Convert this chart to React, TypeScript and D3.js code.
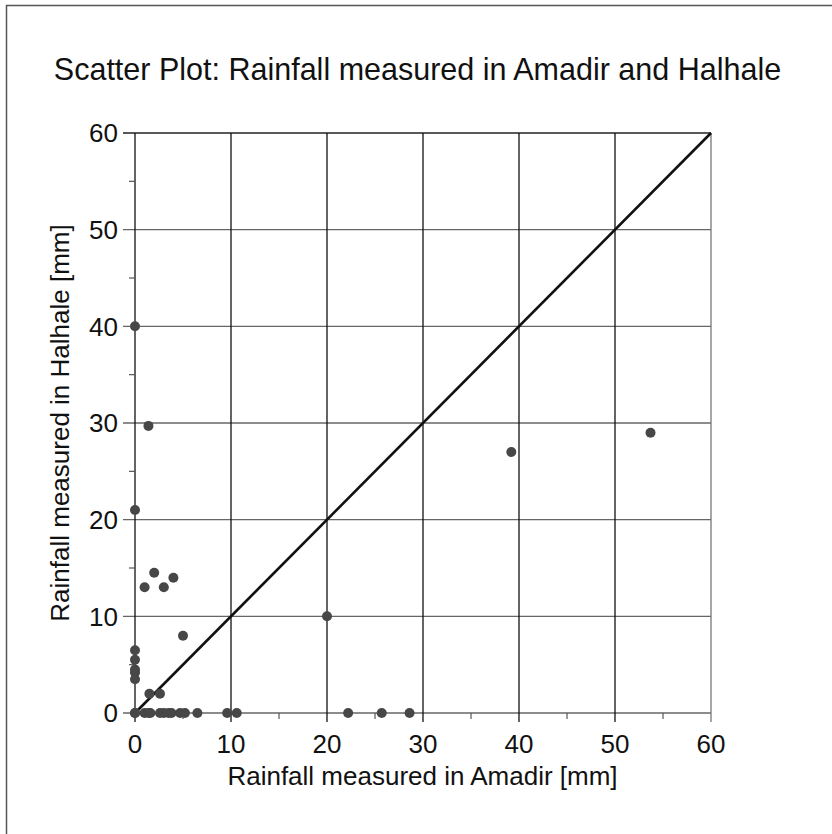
import React from "react";
import * as d3 from "d3";

// Daily rainfall pairs [mm]
const amadir: number[] = [
  0, 0, 0, 0, 0, 0, 0, 0,
  1.5, 2.6, 1.0, 3.0, 2.0, 4.0, 1.4, 5.0,
  20, 39.2, 53.7,
  0, 1.0, 1.4, 1.6, 2.6, 3.0, 3.5, 3.8, 4.7, 5.2, 6.5, 9.6, 10.6, 22.2, 25.7, 28.6,
];
const halhale: number[] = [
  40, 21, 6.5, 5.5, 4.5, 4.2, 3.5, 0,
  2, 2, 13, 13, 14.5, 14, 29.7, 8,
  10, 27, 29,
  0, 0, 0, 0, 0, 0, 0, 0, 0, 0, 0, 0, 0, 0, 0, 0,
];

const majorTicks = [0, 10, 20, 30, 40, 50, 60];
const minorTicks = [5, 15, 25, 35, 45, 55];

const title = "Scatter Plot: Rainfall measured in Amadir and Halhale";
const xTitle = "Rainfall measured in Amadir [mm]";
const yTitle = "Rainfall measured in Halhale [mm]";

const W = 832;
const H = 834;
const left = 135;
const right = 711;
const top = 133;
const bottom = 713;
const font = "'Liberation Sans', Arial, sans-serif";

export default function App() {
  const x = d3.scaleLinear().domain([0, 60]).range([left, right]);
  const y = d3.scaleLinear().domain([0, 60]).range([bottom, top]);
  const points = amadir.map((a, i) => ({ a, h: halhale[i] }));
  const diag = d3.line<number>().x((v) => x(v)).y((v) => y(v))([0, 60]) || "";

  return (
    <svg
      width={W}
      height={H}
      style={{ position: "absolute", left: 0, top: 0, background: "#fff" }}
    >
      <rect x={6.5} y={5.5} width={W} height={H} fill="#fff" stroke="#555" strokeWidth={1.5} />
      <text x={417.5} y={80} textAnchor="middle" fontFamily={font} fontSize={30.5} fill="#111">
        {title}
      </text>

      {/* horizontal grid */}
      {majorTicks.map((t) => (
        <line
          key={"h" + t}
          x1={left - 12}
          x2={right}
          y1={y(t)}
          y2={y(t)}
          stroke={t === 60 ? "#222" : "#666"}
          strokeWidth={1.3}
        />
      ))}
      {/* vertical grid */}
      {majorTicks.map((t) => (
        <line
          key={"v" + t}
          x1={x(t)}
          x2={x(t)}
          y1={top}
          y2={bottom + 9}
          stroke={t === 60 ? "#777" : "#111"}
          strokeWidth={1.3}
        />
      ))}
      {minorTicks.map((t) => (
        <line key={"mx" + t} x1={x(t)} x2={x(t)} y1={bottom} y2={bottom + 6} stroke="#555" strokeWidth={1.2} />
      ))}
      {minorTicks.map((t) => (
        <line key={"my" + t} x1={left - 6} x2={left} y1={y(t)} y2={y(t)} stroke="#555" strokeWidth={1.2} />
      ))}

      {majorTicks.map((t) => (
        <text
          key={"yl" + t}
          x={118}
          y={y(t)}
          dy="0.36em"
          textAnchor="end"
          fontFamily={font}
          fontSize={26}
          fill="#111"
        >
          {t}
        </text>
      ))}
      {majorTicks.map((t) => (
        <text
          key={"xl" + t}
          x={x(t)}
          y={753}
          textAnchor="middle"
          fontFamily={font}
          fontSize={26}
          fill="#111"
        >
          {t}
        </text>
      ))}

      <text x={422.5} y={785} textAnchor="middle" fontFamily={font} fontSize={26} fill="#111">
        {xTitle}
      </text>
      <text
        transform={`translate(${69},${(top + bottom) / 2}) rotate(-90)`}
        textAnchor="middle"
        fontFamily={font}
        fontSize={26}
        fill="#111"
      >
        {yTitle}
      </text>

      <path d={diag} stroke="#111" strokeWidth={2.6} fill="none" />

      {points.map((p, i) => (
        <circle key={i} cx={x(p.a)} cy={y(p.h)} r={5} fill="#474747" />
      ))}
    </svg>
  );
}
